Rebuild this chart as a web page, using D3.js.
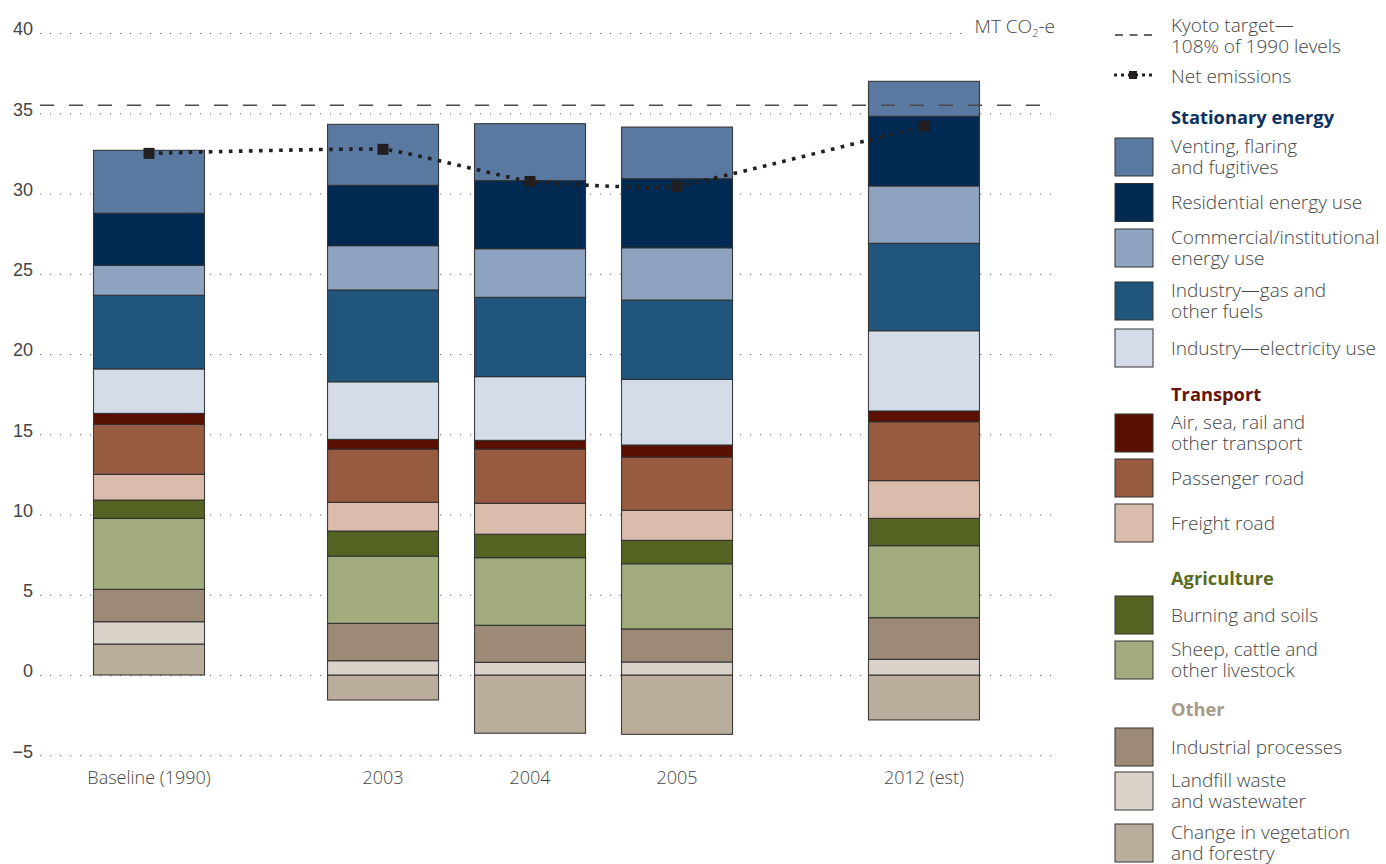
<!DOCTYPE html>
<html>
<head>
<meta charset="utf-8">
<script src="https://cdn.jsdelivr.net/npm/d3@7"></script>
<style>
  html, body { margin: 0; padding: 0; background: #fff; }
  svg { display: block; font-family: "Open Sans", "Noto Sans", sans-serif; }
  .lt { font-weight: 300; }
</style>
</head>
<body>
<svg id="chart" width="1386" height="864"></svg>
<script>
// ---------------- DATA ----------------
const categories = ["Baseline (1990)", "2003", "2004", "2005", "2012 (est)"];
const yTicks = [40, 35, 30, 25, 20, 15, 10, 5, 0, -5];
const unitLabel = "MT CO";

// series values (MT CO2-e), one value per category
const vegetation   = [1.93, -1.56, -3.63, -3.70, -2.80];
const landfill     = [1.39,  0.89,  0.79,  0.81,  0.98];
const industrial   = [2.02,  2.33,  2.31,  2.06,  2.59];
const livestock    = [4.42,  4.19,  4.21,  4.06,  4.49];
const burning      = [1.14,  1.56,  1.46,  1.46,  1.70];
const freight      = [1.60,  1.79,  1.93,  1.87,  2.35];
const passenger    = [3.12,  3.32,  3.38,  3.32,  3.67];
const airSeaRail   = [0.68,  0.60,  0.54,  0.75,  0.67];
const indElec      = [2.77,  3.59,  3.97,  4.09,  5.00];
const indGas       = [4.59,  5.72,  4.94,  4.94,  5.45];
const commercial   = [1.87,  2.76,  3.03,  3.26,  3.57];
const residential  = [3.24,  3.76,  4.24,  4.30,  4.34];
const venting      = [3.92,  3.80,  3.55,  3.22,  2.18];

const netEmissions = [32.5, 32.75, 30.75, 30.45, 34.2];
const kyotoTarget = 35.5;

// stacking order bottom -> top
const seriesKeys = ["veg", "landfill", "industrial", "livestock", "burning", "freight",
  "passenger", "air", "elec", "gas", "commercial", "residential", "venting"];
const seriesValues = {
  veg: vegetation, landfill: landfill, industrial: industrial, livestock: livestock,
  burning: burning, freight: freight, passenger: passenger, air: airSeaRail,
  elec: indElec, gas: indGas, commercial: commercial, residential: residential, venting: venting
};
const seriesLabels = {
  venting: ["Venting, flaring", "and fugitives"],
  residential: ["Residential energy use"],
  commercial: ["Commercial/institutional", "energy use"],
  gas: ["Industry\u2014gas and", "other fuels"],
  elec: ["Industry\u2014electricity use"],
  air: ["Air, sea, rail and", "other transport"],
  passenger: ["Passenger road"],
  freight: ["Freight road"],
  burning: ["Burning and soils"],
  livestock: ["Sheep, cattle and", "other livestock"],
  industrial: ["Industrial processes"],
  landfill: ["Landfill waste", "and wastewater"],
  veg: ["Change in vegetation", "and forestry"]
};
const kyotoLabel = ["Kyoto target\u2014", "108% of 1990 levels"];
const netLabel = "Net emissions";
const legendGroups = [
  { name: "Stationary energy", keys: ["venting", "residential", "commercial", "gas", "elec"] },
  { name: "Transport", keys: ["air", "passenger", "freight"] },
  { name: "Agriculture", keys: ["burning", "livestock"] },
  { name: "Other", keys: ["industrial", "landfill", "veg"] }
];

// ---------------- STYLE ----------------
const colors = {
  venting: "#5a79a0", residential: "#002a52", commercial: "#8ea3bf", gas: "#20557d",
  elec: "#d3dce8", air: "#5a1000", passenger: "#965b40", freight: "#dabcac",
  burning: "#546321", livestock: "#a1ab7e", industrial: "#9c8a76", landfill: "#dbd3ca",
  veg: "#baad9b"
};
const groupColors = {
  "Stationary energy": "#0d3261", "Transport": "#641408",
  "Agriculture": "#5a6b22", "Other": "#a8998a"
};
const textColor = "#454545";

// ---------------- LAYOUT ----------------
const svg = d3.select("#chart");
const y = d3.scaleLinear().domain([0, 40]).range([675, 33]);
const slot = [0, 1.592, 2.592, 3.592, 5.272];
const xs = d3.scaleLinear().domain([0, 1]).range([149, 296]);
const barW = 111;
const gridLeft = 40, gridRight = 1058;

// gridlines + tick labels via axis
const yAxis = d3.axisLeft(y).tickValues(yTicks)
  .tickSizeInner(-(gridRight - gridLeft)).tickSizeOuter(0).tickPadding(7);
const gAxis = svg.append("g").attr("transform", `translate(${gridLeft},0)`).call(yAxis);
gAxis.select(".domain").remove();
gAxis.selectAll(".tick line")
  .attr("stroke", "#6a6a6a").attr("stroke-width", 1.2)
  .attr("stroke-dasharray", "1.2,8.8")
  .attr("x2", d => d === 40 ? 925 : (gridRight - gridLeft));
gAxis.selectAll(".tick text")
  .attr("class", "lt")
  .attr("fill", textColor).attr("font-size", 18).attr("font-family", null)
  .attr("x", -7).attr("y", -4);

// unit label
const unit = svg.append("text").attr("class", "lt").attr("x", 1055).attr("y", 33).attr("text-anchor", "end")
  .attr("fill", textColor).attr("font-size", 19);
unit.append("tspan").text(unitLabel);
unit.append("tspan").text("2").attr("font-size", 11).attr("dy", 4);
unit.append("tspan").text("-e").attr("dy", -4);

// stacked bars
const table = categories.map((c, i) => {
  const row = { category: c, idx: i };
  seriesKeys.forEach(k => row[k] = seriesValues[k][i]);
  return row;
});
const stack = d3.stack().keys(seriesKeys).offset(d3.stackOffsetDiverging)(table);

svg.append("g").selectAll("g").data(stack).join("g")
  .attr("fill", d => colors[d.key])
  .selectAll("rect").data(d => d).join("rect")
  .attr("x", d => xs(slot[d.data.idx]) - barW / 2)
  .attr("width", barW)
  .attr("y", d => y(Math.max(d[0], d[1])))
  .attr("height", d => Math.abs(y(d[0]) - y(d[1])))
  .attr("stroke", "#2b2b2b").attr("stroke-width", 1.1).attr("stroke-opacity", 0.9);

// category labels
svg.append("g").selectAll("text").data(categories).join("text")
  .attr("class", "lt")
  .attr("x", (d, i) => xs(slot[i])).attr("y", 784)
  .attr("text-anchor", "middle").attr("fill", textColor).attr("font-size", 18)
  .text(d => d);

// Kyoto target dashed line
svg.append("line").attr("x1", gridLeft).attr("x2", 1050)
  .attr("y1", y(kyotoTarget)).attr("y2", y(kyotoTarget))
  .attr("stroke", "#4a4a4a").attr("stroke-width", 1.3).attr("stroke-dasharray", "14,15");

// net emissions line
const netPts = netEmissions.map((v, i) => [xs(slot[i]), y(v)]);
svg.append("path").datum(netPts)
  .attr("d", d3.line().curve(d3.curveCardinal.tension(0.65)))
  .attr("fill", "none").attr("stroke", "#231f20").attr("stroke-width", 3.6)
  .attr("stroke-dasharray", "3.6,6.4");
svg.append("g").selectAll("rect").data(netPts).join("rect")
  .attr("x", d => d[0] - 5.5).attr("y", d => d[1] - 5.5)
  .attr("width", 11).attr("height", 11).attr("fill", "#231f20");

// ---------------- LEGEND ----------------
const lg = svg.append("g");
const textX = 1171, swX = 1115, swS = 38, fs = 19, lineH = 21.5;

function multiLine(lines, cy) {
  const t = lg.append("text").attr("class", "lt").attr("x", textX).attr("font-size", fs)
    .attr("fill", textColor).attr("y", cy - (lines.length - 1) * lineH / 2 + 6.5);
  lines.forEach((s, i) => {
    t.append("tspan").attr("x", textX).attr("dy", i === 0 ? 0 : lineH).text(s);
  });
}

// Kyoto
lg.append("line").attr("x1", 1115).attr("x2", 1157).attr("y1", 35).attr("y2", 35)
  .attr("stroke", "#333").attr("stroke-width", 1.3).attr("stroke-dasharray", "8,6.5");
multiLine(kyotoLabel, 36);
// Net emissions
lg.append("line").attr("x1", 1114).attr("x2", 1156).attr("y1", 75).attr("y2", 75)
  .attr("stroke", "#231f20").attr("stroke-width", 3).attr("stroke-dasharray", "3,4");
lg.append("rect").attr("x", 1129).attr("y", 71).attr("width", 8).attr("height", 8).attr("fill", "#231f20");
multiLine([netLabel], 76);

const headerY = [124, 401, 585, 716];
const swatchTops = [[138, 183.5, 229, 282, 329], [414, 459, 504], [596, 641], [728, 772, 824]];
legendGroups.forEach((g, gi) => {
  lg.append("text").attr("x", textX).attr("y", headerY[gi]).attr("font-size", 18.3)
    .attr("font-weight", "bold").attr("fill", groupColors[g.name]).text(g.name);
  g.keys.forEach((k, ki) => {
    const top = swatchTops[gi][ki];
    lg.append("rect").attr("x", swX).attr("y", top).attr("width", swS).attr("height", swS)
      .attr("fill", colors[k]).attr("stroke", "#333").attr("stroke-width", 1);
    multiLine(seriesLabels[k], top + swS / 2);
  });
});
</script>
</body>
</html>
